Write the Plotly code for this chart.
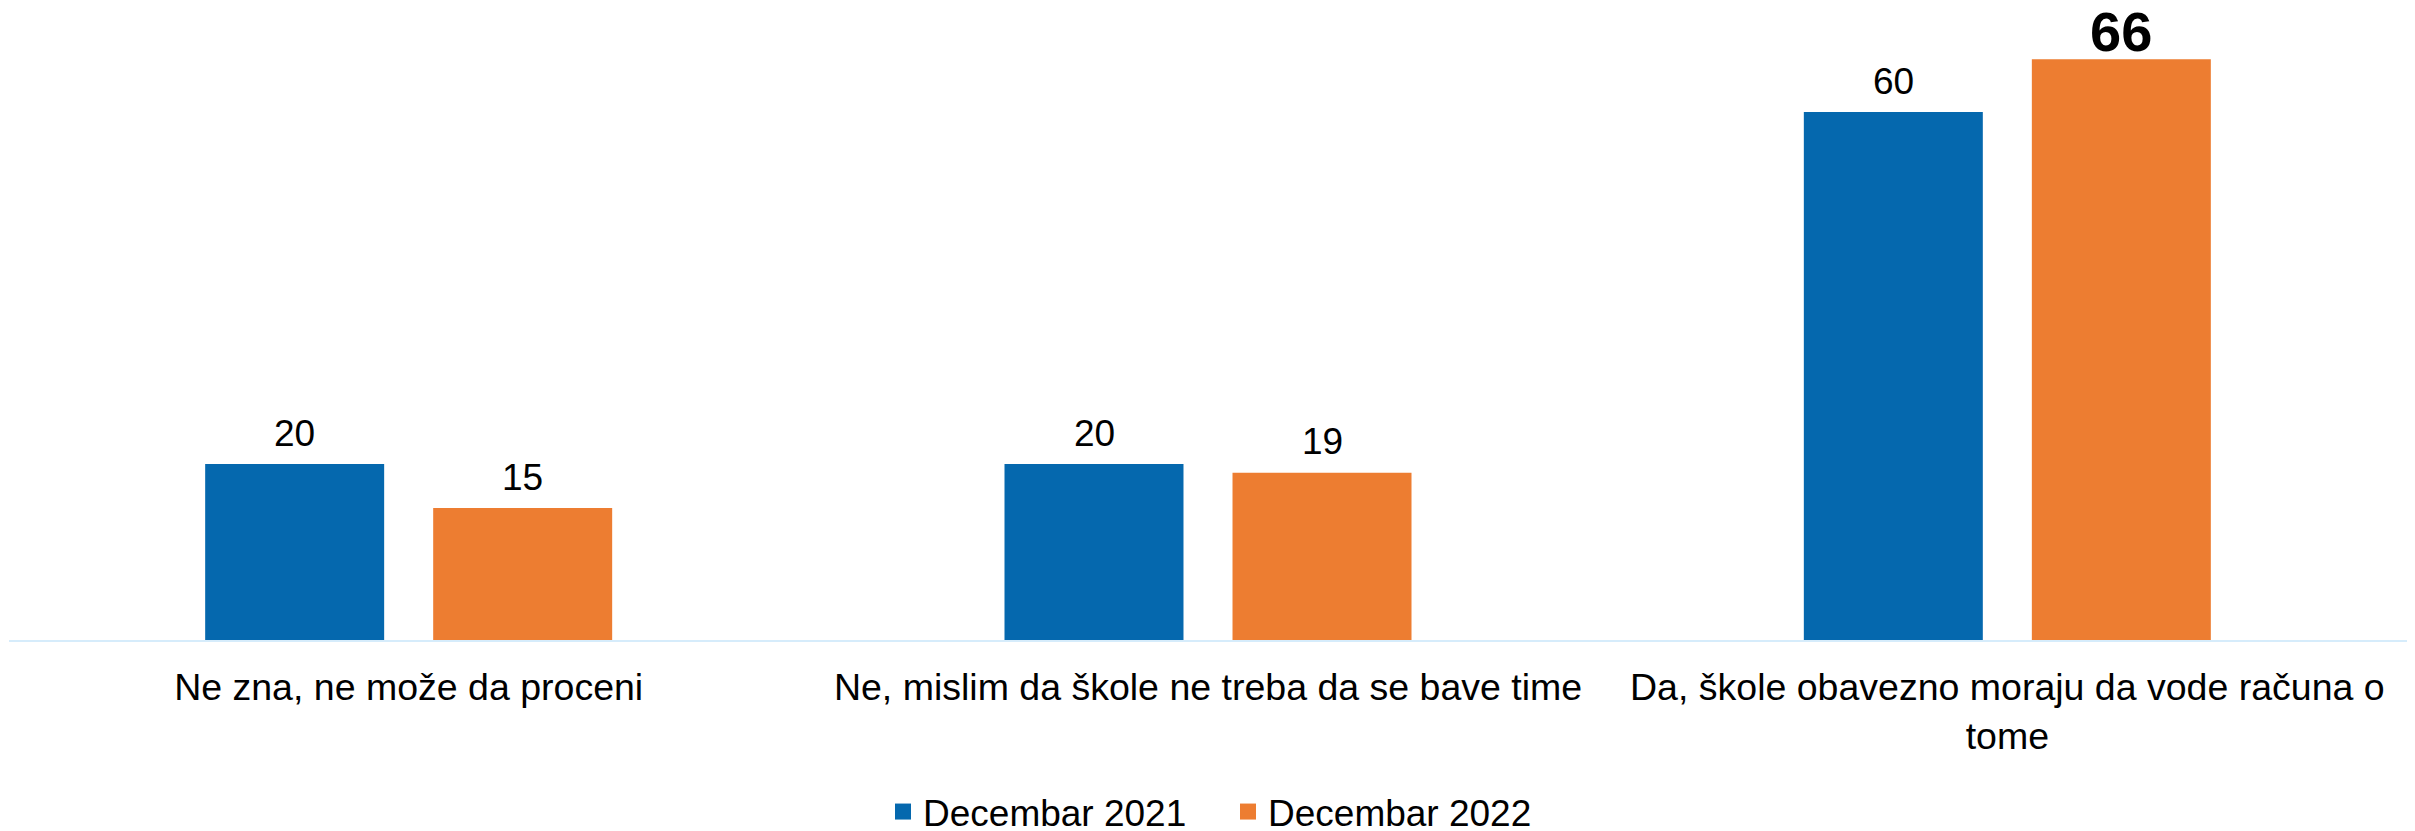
import plotly.graph_objects as go

categories = [
    "Ne zna, ne može da proceni",
    "Ne, mislim da škole ne treba da se bave time",
    "Da, škole obavezno moraju da vode računa o<br>tome",
]
series_names = ["Decembar 2021", "Decembar 2022"]
values_2021 = [20, 20, 60]
values_2022 = [15, 19, 66]
highlight_2022 = [False, False, True]

colors = ["#0568AE", "#ED7D31"]
FONT = "Liberation Sans, Arial, sans-serif"

# the page body has an 8px default margin; size the figure to fit the window
W, H = 2415 - 8, 831 - 8

fig = go.Figure()
for name, vals, col in zip(series_names, [values_2021, values_2022], colors):
    fig.add_trace(go.Bar(
        x=categories, y=vals, name=name, showlegend=False,
        marker=dict(color=col, line=dict(width=0)),
        hoverinfo="x+y",
    ))
    fig.add_trace(go.Scatter(
        x=[None], y=[None], name=name, mode="markers",
        marker=dict(symbol="square", size=20, color=col),
        showlegend=True,
    ))

slot_half = 114
for s, (vals, shift) in enumerate([(values_2021, -slot_half), (values_2022, slot_half)]):
    for i, (cat, v) in enumerate(zip(categories, vals)):
        big = s == 1 and highlight_2022[i]
        fig.add_annotation(
            x=cat, y=v, xref="x", yref="y", xshift=shift,
            yshift=28 if big else 31, yanchor="middle", showarrow=False,
            text=f"<b>{v}</b>" if big else str(v),
            font=dict(size=56 if big else 37, color="black", family=FONT),
        )

fig.update_layout(
    width=W, height=H,
    margin=dict(l=1, r=8, t=16, b=191, autoexpand=False),
    paper_bgcolor="white", plot_bgcolor="white",
    barmode="group", bargap=0.4295, bargroupgap=0.215,
    font=dict(family=FONT, size=37, color="black"),
    showlegend=True,
    legend=dict(orientation="h", x=0.5 + 20 / 2398, xanchor="center", xref="paper",
                y=(H - 804) / H, yanchor="middle", yref="container",
                font=dict(size=37, family=FONT), itemsizing="trace",
                traceorder="normal", itemwidth=30, entrywidth=300,
                entrywidthmode="pixels"),
)
fig.update_xaxes(showline=True, linecolor="#D6ECFB", linewidth=2, ticks="",
                 tickfont=dict(size=37.5, family=FONT), ticklabelstandoff=13,
                 showgrid=False, automargin=False)
fig.update_yaxes(range=[0, 70], visible=False, showgrid=False, zeroline=False,
                 automargin=False)

fig.write_html("out.html")
